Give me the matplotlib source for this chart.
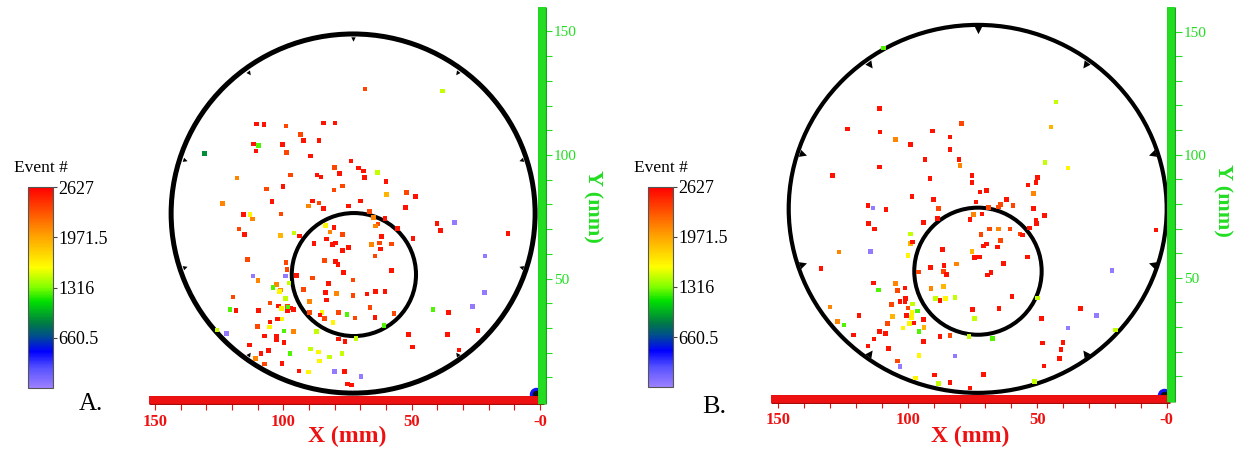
import numpy as np
import matplotlib
matplotlib.use('Agg')
import matplotlib.pyplot as plt
import matplotlib.cm as cm
import matplotlib.patheffects as pe
from matplotlib.colors import LinearSegmentedColormap, Normalize
from matplotlib.patches import Ellipse
from matplotlib.markers import MarkerStyle
from matplotlib.transforms import Affine2D

plt.rcParams['font.family'] = ['Liberation Serif', 'DejaVu Serif']

# event-number colour scale
EV_MIN, EV_MAX = 5, 2627
cbar_ticks = [2627, 1971.5, 1316, 660.5]
cbar_labels = ['2627', '1971.5', '1316', '660.5']

x_ticks = [150, 100, 50, 0]
x_tick_labels = ['150', '100', '50', '-0']
y_ticks = [50, 100, 150]
y_tick_labels = ['50', '100', '150']

# --- run A: source locations (mm) and event number ---
x_a = [110.4, 107.5, 98.9, 84.3, 79.9, 93.2, 92.1, 86.1, 111.5, 109.6,
       100.4, 110.6, 98.7, 130.8, 89.5, 73.7, 80.0, 70.6, 68.8, 63.4,
       78.0, 86.9, 85.3, 68.3, 97.1, 118.0, 60.0, 106.6, 100.1, 80.2,
       76.9, 59.7, 52.1, 48.4, 123.8, 104.4, 88.6, 86.1, 90.1, 84.4,
       74.7, 70.0, 52.5, 115.6, 113.0, 112.1, 100.9, 66.5, 83.5, 80.2,
       81.8, 76.9, 64.9, 60.4, 63.1, 64.2, 55.6, 40.1, 38.8, 33.2,
       12.5, 117.3, 115.0, 101.2, 95.8, 93.8, 83.2, 88.0, 80.8, 79.6,
       76.9, 74.7, 61.7, 65.7, 62.6, 57.9, 62.2, 64.3, 49.4, 21.5,
       114.0, 98.9, 84.0, 79.7, 78.7, 98.6, 76.5, 111.8, 99.2, 94.8,
       109.9, 88.7, 72.8, 57.9, 97.8, 102.6, 82.3, 104.0, 101.2, 92.2,
       83.6, 79.2, 72.8, 67.4, 64.0, 60.4, 21.7, 119.6, 101.4, 99.2,
       105.2, 89.7, 83.1, 101.8, 98.3, 100.6, 97.0, 96.1, 98.1, 98.4,
       66.3, 120.8, 118.5, 109.7, 41.7, 26.2, 35.6, 89.9, 84.9, 85.7,
       83.9, 78.6, 75.2, 72.1, 64.3, 56.9, 102.2, 100.5, 105.2, 110.0,
       80.6, 60.8, 105.3, 99.7, 96.1, 87.1, 122.1, 107.3, 102.7, 102.7,
       99.7, 78.4, 76.0, 71.7, 51.2, 36.1, 24.2, 113.2, 108.7, 105.7,
       49.7, 31.6, 89.5, 86.4, 77.1, 97.4, 82.1, 110.8, 107.4, 100.5,
       85.8, 93.9, 90.1, 80.1, 76.1, 69.7, 75.1, 73.5, 68.1, 37.9,
       125.8]
y_a = [112.6, 112.4, 111.7, 113.0, 113.0, 108.2, 105.9, 105.8, 104.5, 103.8,
       104.3, 101.6, 100.9, 100.7, 99.6, 97.6, 94.9, 94.7, 93.5, 93.0,
       92.4, 91.9, 91.1, 91.0, 91.9, 90.7, 89.3, 86.2, 87.2, 85.8,
       87.4, 84.1, 84.7, 83.3, 80.3, 81.1, 81.4, 80.6, 79.4, 78.4,
       79.4, 81.4, 78.7, 76.0, 75.8, 74.1, 76.1, 77.2, 71.4, 70.7,
       68.8, 67.9, 74.8, 74.4, 72.1, 71.3, 70.3, 72.2, 69.5, 72.6,
       68.1, 70.0, 67.7, 67.5, 68.4, 67.2, 66.0, 64.1, 63.7, 64.4,
       61.3, 62.5, 66.9, 63.7, 64.4, 64.0, 61.9, 59.1, 66.3, 59.1,
       57.6, 56.4, 57.2, 56.8, 55.6, 53.7, 52.4, 51.0, 51.0, 51.1,
       49.1, 50.2, 49.4, 53.2, 48.2, 47.6, 47.9, 46.4, 45.3, 45.6,
       44.4, 44.0, 43.2, 43.7, 44.7, 44.7, 44.3, 42.5, 44.7, 42.0,
       40.1, 40.6, 41.3, 38.9, 38.6, 37.9, 38.1, 37.4, 38.2, 36.8,
       38.3, 37.5, 37.1, 37.1, 37.5, 38.6, 36.2, 36.2, 36.2, 35.2,
       33.7, 36.2, 35.4, 34.0, 34.3, 35.9, 33.6, 33.6, 32.4, 30.6,
       32.1, 31.0, 30.4, 28.7, 28.5, 28.5, 27.8, 26.7, 26.8, 25.1,
       24.0, 25.5, 24.4, 25.6, 27.4, 27.4, 29.0, 23.1, 19.7, 20.8,
       22.3, 21.1, 21.5, 20.2, 19.7, 19.6, 18.2, 17.7, 15.4, 15.7,
       16.6, 12.6, 12.1, 12.4, 12.4, 10.4, 7.3, 6.9, 126.8, 125.9,
       29.2]
ev_a = [2550, 2550, 2350, 2550, 2550, 2350, 2550, 2550, 2550, 1250,
        2550, 2550, 2350, 900, 2550, 2550, 2350, 2550, 2550, 1450,
        2550, 2550, 2550, 2550, 2350, 2100, 2550, 2350, 2550, 2350,
        2350, 1900, 2350, 2550, 2100, 2550, 2550, 2350, 2100, 2550,
        2550, 2550, 2550, 2550, 1620, 2100, 2350, 2350, 1620, 2550,
        2100, 2350, 2100, 2550, 2350, 2100, 2550, 2550, 2550, 40,
        2550, 2350, 2550, 1900, 1450, 2550, 2550, 2550, 2550, 2550,
        2550, 2550, 2550, 2100, 2350, 2350, 2550, 2350, 2550, 40,
        2350, 2350, 2350, 2550, 2550, 2350, 2550, 40, 40, 2550,
        2100, 2350, 2350, 2550, 1450, 2100, 2550, 1250, 2100, 2350,
        2550, 2100, 2350, 2550, 2550, 2550, 40, 2350, 1620, 1450,
        2350, 2100, 2550, 2550, 2350, 1620, 2550, 2550, 1250, 2550,
        2350, 1250, 2550, 2550, 1250, 40, 2550, 2350, 1620, 2550,
        2350, 2350, 1250, 2350, 2550, 2350, 2550, 1620, 2550, 2350,
        1620, 1250, 1620, 1250, 2100, 1450, 40, 2550, 2550, 2550,
        2550, 2550, 2550, 1450, 2550, 2550, 2550, 2550, 2550, 2550,
        2550, 2550, 1450, 1620, 1450, 1250, 1450, 2100, 2350, 2550,
        1620, 2550, 1620, 40, 2550, 40, 2550, 2550, 2350, 1450,
        1450]

# --- run B ---
x_b = [110.9, 42.8, 123.2, 110.7, 79.2, 90.4, 83.7, 104.8, 98.9, 44.7,
       83.7, 93.4, 80.3, 79.8, 111.0, 129.0, 47.0, 38.1, 91.4, 75.2,
       75.2, 53.6, 50.5, 49.8, 51.4, 72.1, 69.7, 98.4, 90.1, 73.7,
       61.8, 64.3, 64.9, 59.4, 115.3, 113.4, 108.4, 88.2, 68.8, 51.4,
       47.1, 74.7, 71.3, 76.0, 88.5, 94.0, 50.5, 50.2, 115.1, 112.8,
       68.5, 65.0, 60.6, 53.1, 56.7, 55.6, 4.1, 99.0, 99.0, 98.1,
       71.8, 70.8, 69.7, 64.1, 65.3, 126.6, 114.3, 99.9, 86.7, 75.2,
       74.3, 72.4, 53.8, 133.5, 91.3, 86.0, 81.3, 63.0, 86.3, 85.0,
       69.3, 67.9, 21.2, 95.9, 113.3, 104.7, 101.1, 103.9, 111.4, 91.0,
       86.1, 89.2, 87.6, 85.4, 81.8, 59.8, 50.0, 106.2, 103.0, 100.8,
       101.1, 98.1, 99.9, 98.4, 96.2, 130.0, 118.8, 100.6, 105.8, 98.6,
       94.0, 97.6, 99.4, 101.9, 93.7, 95.6, 107.9, 75.1, 64.7, 74.3,
       48.4, 33.4, 27.0, 127.1, 124.6, 120.9, 110.9, 108.5, 113.1, 87.6,
       83.7, 76.4, 67.2, 38.1, 19.8, 115.3, 107.5, 94.0, 48.0, 40.1,
       40.8, 41.3, 95.7, 81.8, 103.9, 103.0, 47.4, 89.8, 70.8, 97.1,
       83.7, 88.2, 76.0, 51.1, 109.5]
y_b = [118.8, 121.4, 110.4, 109.2, 112.6, 109.7, 107.2, 106.1, 104.2, 111.2,
       102.2, 98.1, 98.1, 95.7, 95.0, 91.5, 96.9, 94.6, 90.3, 91.5,
       88.8, 87.7, 88.8, 90.7, 84.3, 84.9, 85.4, 83.1, 81.9, 80.8,
       81.9, 79.9, 78.8, 79.4, 79.4, 78.4, 77.8, 78.1, 78.6, 78.1,
       75.2, 75.6, 75.9, 73.8, 74.0, 72.4, 73.2, 72.1, 72.1, 69.8,
       69.8, 69.8, 69.8, 70.2, 67.8, 67.4, 69.4, 67.8, 64.0, 64.6,
       67.5, 62.9, 63.7, 65.1, 62.6, 60.5, 60.8, 59.0, 61.4, 60.6,
       58.3, 58.5, 58.5, 53.9, 54.1, 55.1, 55.7, 55.9, 52.7, 51.4,
       51.2, 52.1, 52.9, 52.4, 47.9, 47.8, 45.9, 44.8, 45.1, 45.6,
       46.6, 41.7, 40.7, 41.7, 41.9, 42.5, 41.8, 39.3, 40.5, 41.7,
       40.5, 39.4, 37.8, 36.0, 36.5, 38.2, 34.6, 34.8, 34.4, 34.0,
       33.2, 31.7, 31.5, 29.6, 29.9, 28.3, 31.5, 37.2, 37.5, 33.6,
       33.4, 37.5, 34.6, 32.2, 30.9, 26.8, 28.1, 27.3, 25.2, 26.1,
       26.5, 26.1, 25.3, 29.6, 28.8, 22.3, 21.2, 24.2, 23.5, 23.8,
       21.0, 17.2, 18.5, 18.3, 16.2, 13.9, 14.2, 10.6, 10.8, 9.3,
       7.6, 7.2, 5.3, 7.8, 143.4]
ev_b = [2550, 1450, 2550, 2550, 2350, 2550, 2550, 2100, 2550, 1900,
        2550, 2550, 2550, 2100, 2550, 2550, 1450, 1620, 2550, 2550,
        2550, 2550, 2550, 2550, 2100, 2550, 2550, 2550, 2550, 2550,
        2550, 2350, 2350, 2350, 2550, 40, 2550, 2350, 2350, 2550,
        2550, 2100, 2550, 2550, 2550, 2550, 2550, 2550, 2550, 2550,
        2350, 2100, 2350, 2550, 2350, 2550, 2550, 1450, 1900, 2550,
        2350, 2550, 2550, 2350, 2550, 2100, 40, 1620, 2550, 1900,
        2550, 2550, 2550, 2550, 2550, 2550, 2100, 2550, 2350, 2550,
        2550, 2550, 40, 2350, 2550, 2100, 2550, 2350, 1250, 2100,
        1900, 1450, 2550, 1620, 1450, 2550, 1450, 2350, 2550, 2550,
        2550, 1450, 2350, 1620, 1250, 2100, 2550, 2550, 1900, 1620,
        2550, 2550, 1620, 1620, 1900, 1250, 2350, 2550, 2550, 1450,
        2550, 2550, 40, 2100, 1250, 2550, 2550, 2550, 2550, 2550,
        2350, 1450, 1250, 40, 1450, 2550, 2550, 2550, 2550, 2550,
        2550, 2550, 1620, 40, 2350, 40, 2550, 2550, 2550, 1620,
        2550, 1450, 2550, 1450, 1250]

# sensor ring geometry per run: (centre x, centre y, radius x, radius y)
outer_a = (72.8, 76.3, 70.9, 72.7)
inner_a = (72.5, 51.6, 24.2, 24.9)
outer_b = (73.0, 78.0, 73.0, 74.7)
inner_b = (72.9, 52.7, 24.6, 25.8)
NOTCH_ANGLES = [90, 54, 18, -18, -54, 126, 162, 198, 234]

cmap = LinearSegmentedColormap.from_list('event', [
    (0.00, '#9c80ff'), (0.10, '#5550ff'), (0.18, '#0000ff'),
    (0.26, '#00508a'), (0.32, '#007a45'), (0.43, '#00e000'),
    (0.50, '#80ff00'), (0.60, '#ffff00'), (0.77, '#ff9900'),
    (1.00, '#ff0000')])
norm = Normalize(EV_MIN, EV_MAX)

W, H = 1236, 451
fig = plt.figure(figsize=(W / 100, H / 100), dpi=100)

RED = '#ee1111'
GREEN = '#22dd22'


def make_axes(x0, kx, y0, ky, xlim=(157, -5), ylim=(-4, 162)):
    # x0, y0: pixel position of the origin; kx, ky: pixels per mm
    left = x0 - kx * xlim[0]
    right = x0 - kx * xlim[1]
    top = y0 - ky * ylim[1]
    bottom = y0 - ky * ylim[0]
    ax = fig.add_axes([left / W, 1 - bottom / H, (right - left) / W,
                       (bottom - top) / H])
    ax.set_xlim(*xlim)
    ax.set_ylim(*ylim)
    return ax


def draw_panel(ax, xs, ys, ev, outer, inner, bar_y, bar_x, bar_left,
               origin, lw_outer, notch_size, xlabel_pos, ylabel_pos):
    for (cx, cy, rx, ry), lw in ((outer, lw_outer), (inner, 2.9)):
        ax.add_patch(Ellipse((cx, cy), 2 * rx, 2 * ry, fill=False,
                             edgecolor='black', lw=lw, zorder=2))
    cx, cy, rx, ry = outer
    for ang in NOTCH_ANGLES:
        t = np.deg2rad(ang)
        m = MarkerStyle('^', transform=Affine2D().rotate_deg(ang + 90))
        ax.scatter([cx - 0.97 * rx * np.cos(t)], [cy + 0.97 * ry * np.sin(t)],
                   marker=m, s=notch_size, color='black', linewidths=0,
                   zorder=2)

    ax.scatter(xs, ys, c=ev, cmap=cmap, norm=norm, marker='s', s=11,
               linewidths=0, zorder=3)

    # origin marker
    ax.scatter([origin[0]], [origin[1]], s=75, color='#1515ee', zorder=5,
               clip_on=False)
    ax.scatter([origin[0]], [origin[1]], s=18, color='#111111', zorder=5,
               clip_on=False)

    # red X bar and green Y bar
    ax.plot([bar_left, -1.4], [bar_y, bar_y], color=RED, lw=5.6,
            solid_capstyle='butt', zorder=6, clip_on=False,
            path_effects=[pe.Stroke(linewidth=6.4, foreground='#a00000'),
                          pe.Normal()])
    ax.plot([bar_x, bar_x], [bar_y - 1.6, 160], color=GREEN, lw=5.6,
            solid_capstyle='butt', zorder=7, clip_on=False,
            path_effects=[pe.Stroke(linewidth=6.4, foreground='#119911'),
                          pe.Normal()])

    for s in ('top', 'left', 'bottom', 'right'):
        ax.spines[s].set_visible(False)
    ax.spines['bottom'].set_position(('data', bar_y - 1.6))
    ax.spines['right'].set_position(('data', bar_x - 1.5))
    ax.set_facecolor('none')

    ax.xaxis.set_ticks_position('bottom')
    ax.set_xticks(x_ticks)
    ax.set_xticklabels(x_tick_labels, fontweight='bold')
    ax.set_xticks([v for v in range(10, 150, 10) if v not in x_ticks],
                  minor=True)
    ax.tick_params(axis='x', which='both', direction='out', length=4,
                   width=0.8, color=RED, labelcolor=RED, labelsize=12, pad=3)

    ax.yaxis.set_ticks_position('right')
    ax.set_yticks(y_ticks)
    ax.set_yticklabels(y_tick_labels)
    ax.set_yticks([v for v in range(10, 160, 10) if v not in y_ticks],
                  minor=True)
    ax.tick_params(axis='y', which='both', direction='out', length=5,
                   width=0.8, color=GREEN, labelcolor=GREEN, labelsize=11,
                   pad=1)

    ax.text(*xlabel_pos, 'X (mm)', color=RED, fontsize=17, fontweight='bold',
            ha='center', va='center', clip_on=False)
    ax.text(*ylabel_pos, 'Y (mm)', color=GREEN, fontsize=16,
            fontweight='bold', rotation=270, ha='center', va='center',
            clip_on=False)


def draw_colorbar(rect_px, title_px):
    l, t, w, h = rect_px
    cax = fig.add_axes([l / W, 1 - (t + h) / H, w / W, h / H])
    cb = fig.colorbar(cm.ScalarMappable(norm=norm, cmap=cmap), cax=cax,
                      ticks=cbar_ticks)
    cb.ax.set_yticklabels(cbar_labels)
    cb.outline.set_edgecolor('#555555')
    cb.outline.set_linewidth(0.8)
    cb.ax.tick_params(axis='y', length=3, width=0.8, color='#444444',
                      labelsize=13, pad=1)
    fig.text(title_px[0] / W, 1 - title_px[1] / H, 'Event #', fontsize=12.5,
             ha='center', va='center')


ax_a = make_axes(540, 2.567, 402, 2.47)
draw_panel(ax_a, x_a, y_a, ev_a, outer_a, inner_a, bar_y=0.8, bar_x=-0.6,
           bar_left=152.4, origin=(1.6, 3.2), lw_outer=3.6, notch_size=10,
           xlabel_pos=(75.2, -13.8), ylabel_pos=(-20.6, 79))

ax_b = make_axes(1166.7, 2.589, 401, 2.463)
draw_panel(ax_b, x_b, y_b, ev_b, outer_b, inner_b, bar_y=1.0, bar_x=-1.8,
           bar_left=153.0, origin=(1.0, 2.4), lw_outer=3.0, notch_size=28,
           xlabel_pos=(76.0, -14.2), ylabel_pos=(-21.7, 81.6))

draw_colorbar((28, 187, 25, 201), (41, 168))
draw_colorbar((648, 187, 25, 200), (661, 168))

fig.text(91 / W, 1 - 404 / H, 'A.', fontsize=18, ha='center', va='center')
fig.text(714 / W, 1 - 407 / H, 'B.', fontsize=19, ha='center', va='center')

fig.savefig('out.png', dpi=100)
